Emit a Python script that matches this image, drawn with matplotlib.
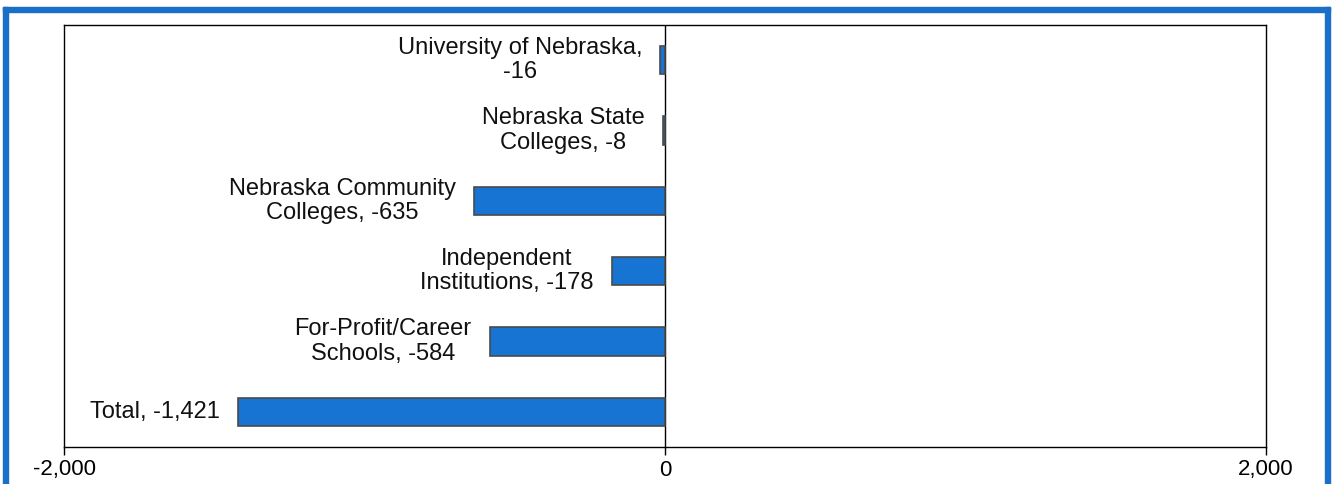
import matplotlib.pyplot as plt
from matplotlib.patches import Rectangle

# data
categories = ['University of Nebraska,\n-16',
              'Nebraska State\nColleges, -8',
              'Nebraska Community\nColleges, -635',
              'Independent\nInstitutions, -178',
              'For-Profit/Career\nSchools, -584',
              'Total, -1,421']
values = [-16, -8, -635, -178, -584, -1421]
xticks = [-2000, 0, 2000]
xtick_labels = ['-2,000', '0', '2,000']

plt.rcParams['font.family'] = ['Liberation Sans', 'DejaVu Sans']

W, H = 1334, 484
fig = plt.figure(figsize=(W / 100, H / 100), dpi=100)
ax = fig.add_axes([64 / W, 1 - 447 / H, (1266 - 64) / W, (447 - 25) / H])

# blue window frame
blue = '#1a6fc8'
fig.patches.append(Rectangle((3 / W, 0), 5 / W, 1 - 7 / H, transform=fig.transFigure,
                             color=blue, zorder=0))
fig.patches.append(Rectangle((3 / W, 1 - 12 / H), (1330 - 3) / W, 5 / H,
                             transform=fig.transFigure, color=blue, zorder=0))
fig.patches.append(Rectangle((1325 / W, 0), 5 / W, 1 - 7 / H, transform=fig.transFigure,
                             color=blue, zorder=0))

ypos = list(range(len(categories)))
ax.barh(ypos, values, height=0.4, color='#1874d2', edgecolor='#4a4a4a', linewidth=1.2,
        zorder=3)

for y, v, lab in zip(ypos, values, categories):
    ax.annotate(lab, (v, y), xytext=(-13, 0), textcoords='offset points',
                ha='right', va='center', multialignment='center', fontsize=17,
                linespacing=1.12, color='#111111', zorder=4)

ax.axvline(0, color='black', linewidth=1, zorder=2)
ax.set_xlim(-2000, 2000)
ax.set_ylim(len(categories) - 0.5, -0.5)
ax.set_yticks([])
ax.set_xticks(xticks)
ax.set_xticklabels(xtick_labels, fontsize=16)
ax.tick_params(axis='x', direction='out', length=6, width=1, pad=3)
for s in ax.spines.values():
    s.set_linewidth(1)
    s.set_color('black')

fig.savefig('out.png', dpi=100)
